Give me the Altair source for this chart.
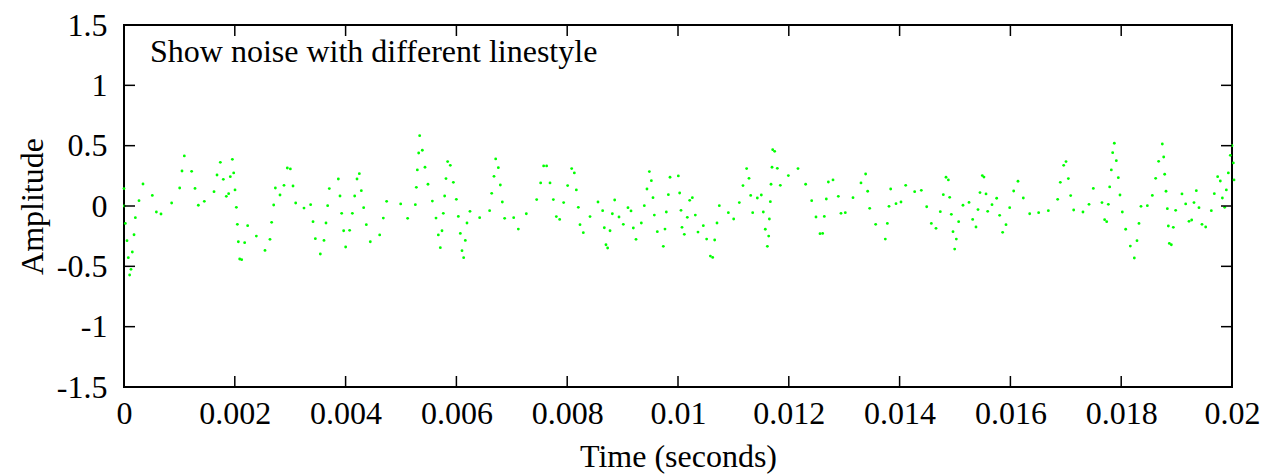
import altair as alt
import pandas as pd

# Dots of the dotted noise trace (time in milliseconds, amplitude)
dot_time_ms = [
    0.000, 0.005, 0.024, 0.054, 0.078, 0.102, 0.126, 0.150, 0.181, 0.205, 0.271, 0.343,
    0.511, 0.584, 0.668, 0.860, 1.005, 1.047, 1.089, 1.221, 1.282, 1.342, 1.450, 1.625,
    1.679, 1.739, 1.793, 1.847, 1.889, 1.919, 1.956, 1.980, 2.004, 2.028, 2.046, 2.064,
    2.088, 2.124, 2.178, 2.232, 2.389, 2.545, 2.635, 2.665, 2.702, 2.732, 2.816, 2.888,
    2.948, 3.003, 3.051, 3.099, 3.249,
    3.369, 3.412, 3.454, 3.544, 3.610, 3.646, 3.676, 3.706, 3.869, 3.899, 3.929, 3.965,
    4.001, 4.073, 4.122, 4.164, 4.206, 4.248, 4.284, 4.326, 4.374, 4.446, 4.615, 4.681,
    4.741, 4.994, 5.120, 5.259, 5.277, 5.295, 5.319, 5.337, 5.385, 5.433, 5.487, 5.566,
    5.632, 5.674, 5.710, 5.740, 5.764, 5.788, 5.812, 5.842, 5.890, 5.945, 5.999, 6.035,
    6.071, 6.101, 6.131, 6.161, 6.191, 6.245, 6.420, 6.600, 6.637, 6.679, 6.709,
    6.757, 6.793, 6.829, 6.871, 7.034, 7.118, 7.262, 7.449, 7.521, 7.575, 7.629, 7.690,
    7.750, 7.804, 7.864, 7.936, 8.008, 8.081, 8.129, 8.165, 8.201, 8.231, 8.291, 8.412,
    8.556, 8.640, 8.670, 8.700, 8.730, 8.773, 8.815, 8.857, 8.935, 9.013, 9.097, 9.152,
    9.194, 9.242, 9.338, 9.392, 9.440, 9.483, 9.519, 9.549, 9.573, 9.627, 9.735, 9.765,
    9.789, 9.826, 9.856, 10.006, 10.030, 10.054, 10.072,
    10.114, 10.168, 10.211, 10.259, 10.313, 10.361, 10.457, 10.517, 10.584, 10.626, 10.662,
    10.704, 10.746, 10.909, 11.005, 11.107, 11.173, 11.239, 11.282, 11.312, 11.348, 11.432,
    11.504, 11.540, 11.576, 11.613, 11.637, 11.649, 11.667, 11.679, 11.697, 11.709, 11.745,
    11.793, 11.847, 11.992, 12.166, 12.304, 12.413, 12.491, 12.563, 12.611, 12.641, 12.677,
    12.714, 12.798, 12.894, 12.942, 13.020, 13.159, 13.303, 13.387, 13.424,
    13.460, 13.568, 13.742, 13.779, 13.809, 13.839, 13.935, 14.025, 14.110, 14.272, 14.392,
    14.489, 14.573, 14.657, 14.735, 14.789, 14.838, 14.880, 14.904, 14.934, 14.964, 14.994,
    15.024, 15.066, 15.144, 15.253, 15.319, 15.379, 15.415, 15.451, 15.493, 15.523, 15.560,
    15.590, 15.668, 15.752, 15.806, 15.860, 15.921, 15.987, 16.059, 16.137, 16.233, 16.348,
    16.510, 16.685,
    16.853, 16.901, 16.962, 17.004, 17.046, 17.088, 17.142, 17.310, 17.419, 17.497, 17.653,
    17.701, 17.738, 17.768, 17.792, 17.822, 17.846, 17.876, 17.912, 17.948, 17.978, 18.020,
    18.081, 18.165, 18.237, 18.285, 18.321, 18.357, 18.472, 18.562, 18.622, 18.676, 18.742,
    18.767, 18.785, 18.809, 18.833, 18.851, 18.869, 18.905, 18.941, 18.983, 19.097, 19.164,
    19.224, 19.272, 19.314, 19.356, 19.404, 19.458, 19.525, 19.627, 19.681, 19.741, 19.789,
    19.826, 19.868, 19.898, 19.934, 19.970, 20.000, 20.024, 20.036,
]

dot_amplitude = [
    0.144, 0.000, -0.144, -0.287, -0.428, -0.572, -0.525, -0.381, -0.238, -0.097, 0.044, 0.182,
    0.088, -0.050, -0.066, 0.025, 0.149, 0.290, 0.415, 0.287, 0.146, 0.006, 0.039, 0.119,
    0.257, 0.362, 0.221, 0.080, 0.102, 0.243, 0.387, 0.274, 0.133, -0.011, -0.152, -0.296,
    -0.439, -0.445, -0.304, -0.163, -0.249, -0.368, -0.276, -0.135, 0.008, 0.149, 0.091, 0.171,
    0.315, 0.307, 0.166, 0.025, -0.017,
    0.011, -0.130, -0.271, -0.398, -0.285, -0.141, 0.003, 0.144, 0.224, 0.083, -0.061, -0.205,
    -0.340, -0.202, -0.061, 0.083, 0.224, 0.268, 0.127, -0.014, -0.155, -0.296, -0.240, -0.100,
    0.039, 0.017, -0.102, 0.011, 0.155, 0.299, 0.439, 0.583, 0.462, 0.321, 0.180, 0.041,
    -0.100, -0.240, -0.345, -0.205, -0.061, 0.083, 0.227, 0.368, 0.337, 0.196, 0.055, -0.086,
    -0.227, -0.370, -0.428, -0.285, -0.141, -0.044, -0.097, -0.039, 0.105, 0.246, 0.390,
    0.318, 0.174, 0.033, -0.102, -0.097, -0.191, -0.064, 0.053, 0.191, 0.332, 0.332, 0.191,
    0.053, -0.088, -0.111, 0.028, 0.169, 0.310, 0.274, 0.133, -0.011, -0.155, -0.221, -0.088,
    0.033, -0.039, -0.180, -0.321, -0.348, -0.205, -0.064, 0.050, -0.091, -0.152, -0.014, -0.041,
    -0.182, -0.276, -0.141, 0.003, 0.141, 0.285, 0.210, 0.069, -0.075, -0.213, -0.334, -0.191,
    -0.050, 0.094, 0.238, 0.249, 0.108, -0.036, -0.177,
    -0.235, -0.094, 0.047, 0.069, -0.075, -0.216, -0.163, -0.274, -0.415, -0.426, -0.282,
    -0.141, 0.003, -0.055, -0.108, 0.028, 0.169, 0.310, 0.229, 0.088, -0.055, 0.066,
    0.091, -0.050, -0.193, -0.334, -0.249, -0.108, 0.036, 0.180, 0.321, 0.467, 0.453,
    0.312, 0.171, 0.252, 0.310, 0.180, 0.044, -0.091, -0.229, -0.227, -0.086, 0.058,
    0.199, 0.216, 0.080, -0.061, -0.055, 0.069, 0.191, 0.265, 0.122,
    -0.019, -0.152, -0.274, -0.144, -0.003, 0.141, 0.019, 0.033, 0.171, 0.119, 0.130,
    -0.006, -0.144, -0.185, -0.047, 0.094, 0.238, 0.216, 0.072, -0.069, -0.213, -0.357,
    -0.274, -0.130, 0.006, 0.030, -0.111, -0.174, -0.030, 0.111, 0.252, 0.240, 0.100,
    -0.044, 0.011, 0.064, -0.077, -0.218, -0.155, -0.014, 0.124, 0.205, 0.066, -0.064,
    -0.055, -0.039,
    0.055, 0.196, 0.337, 0.368, 0.227, 0.086, -0.033, -0.050, 0.014, 0.146, 0.028,
    -0.113, -0.130, 0.014, 0.158, 0.299, 0.442, 0.520, 0.376, 0.235, 0.091, -0.050,
    -0.193, -0.332, -0.431, -0.287, -0.144, -0.003, 0.003, 0.088, 0.229, 0.370, 0.514,
    0.406, 0.263, 0.122, -0.022, -0.166, -0.310, -0.321, -0.177, -0.036, 0.100, 0.017,
    -0.127, -0.116, 0.028, 0.127, -0.014, -0.152, -0.174, -0.039, 0.102, 0.243, 0.207,
    0.066, -0.011, 0.133, 0.274, 0.420, 0.500, 0.357, 0.216,
]

x_ticks = [0, 0.002, 0.004, 0.006, 0.008, 0.01, 0.012, 0.014, 0.016, 0.018, 0.02]
y_ticks = [-1.5, -1, -0.5, 0, 0.5, 1, 1.5]
annotation = ["Show noise with different linestyle"]

dots = pd.DataFrame({"t": [m / 1000 for m in dot_time_ms], "a": dot_amplitude})
xt = pd.DataFrame({"t": x_ticks})
yt = pd.DataFrame({"a": y_ticks})
note = pd.DataFrame({"label": annotation})

W, H = 1108, 362
FONT = "Liberation Serif"
FS = 32
label_expr = "replace(format(datum.value, '~g'), '\u2212', '-')"

x_scale = alt.Scale(domain=[0, 0.02], nice=False, zero=False)
y_scale = alt.Scale(domain=[-1.5, 1.5], nice=False, zero=False)

x_axis = alt.Axis(
    values=x_ticks, labelExpr=label_expr, ticks=False, domain=False, grid=False,
    labelFont=FONT, labelFontSize=FS, labelColor="black", labelPadding=11,
    labelFlush=False, labelOverlap=False,
    title="Time (seconds)", titleFont=FONT, titleFontSize=FS, titleFontWeight="normal",
    titleColor="black", titleX=W / 2, titleY=79, titleBaseline="alphabetic", titleAlign="center",
)
y_axis = alt.Axis(
    values=y_ticks, labelExpr=label_expr, ticks=False, domain=False, grid=False,
    labelFont=FONT, labelFontSize=FS, labelColor="black", labelPadding=17,
    labelFlush=False, labelOverlap=False, labelBaseline="middle",
    title="Amplitude", titleFont=FONT, titleFontSize=FS, titleFontWeight="normal",
    titleColor="black", titleX=-82, titleY=H / 2, titleAngle=270,
    titleBaseline="alphabetic", titleAlign="center",
)

points = alt.Chart(dots).mark_circle(size=8, color="#00ff00", opacity=1).encode(
    x=alt.X("t:Q", scale=x_scale, axis=x_axis),
    y=alt.Y("a:Q", scale=y_scale, axis=y_axis),
)

text = alt.Chart(note).mark_text(
    align="left", baseline="middle", font=FONT, fontSize=FS, color="black"
).encode(x=alt.value(26), y=alt.value(27), text="label:N")

TL = 11
top = alt.Chart(xt).mark_rule(color="black", strokeWidth=1.5).encode(
    x=alt.X("t:Q", scale=x_scale, axis=x_axis), y=alt.value(0), y2=alt.value(TL))
bottom = alt.Chart(xt).mark_rule(color="black", strokeWidth=1.5).encode(
    x=alt.X("t:Q", scale=x_scale, axis=x_axis), y=alt.value(H), y2=alt.value(H - TL))
left = alt.Chart(yt).mark_rule(color="black", strokeWidth=1.5).encode(
    y=alt.Y("a:Q", scale=y_scale, axis=y_axis), x=alt.value(0), x2=alt.value(TL))
right = alt.Chart(yt).mark_rule(color="black", strokeWidth=1.5).encode(
    y=alt.Y("a:Q", scale=y_scale, axis=y_axis), x=alt.value(W), x2=alt.value(W - TL))

chart = alt.layer(points, text, top, bottom, left, right).properties(
    width=W, height=H,
    autosize=alt.AutoSizeParams(type="none"),
    padding={"left": 124, "top": 25, "right": 42, "bottom": 88},
    background="white",
).configure_view(stroke="black", strokeWidth=2)

chart.save("out.html", embed_options={"renderer": "svg", "actions": False})
